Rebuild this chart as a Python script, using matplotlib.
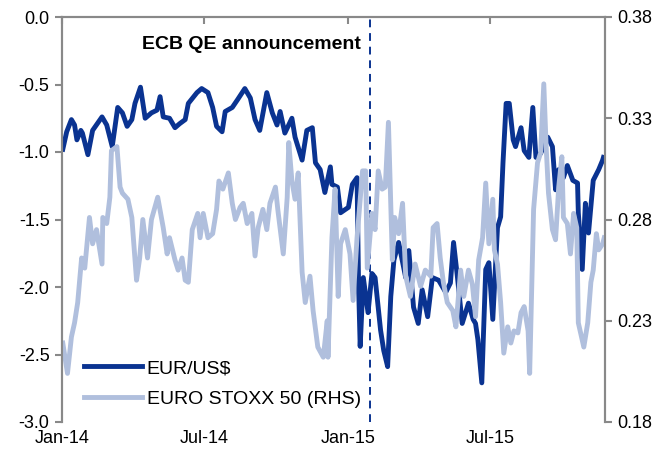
import matplotlib
matplotlib.use('agg')
import matplotlib.pyplot as plt
import matplotlib.dates as mdates
import pandas as pd

plt.rcParams['font.family'] = ['Liberation Sans', 'DejaVu Sans']
plt.rcParams['axes.unicode_minus'] = False

NAVY = '#0a3391'
LIGHT = '#b0bfdd'
GREY = '#898989'

# EUR/US$ (left axis)
eur_dates = [
    '2014-01-02', '2014-01-07', '2014-01-13', '2014-01-17', '2014-01-20', '2014-01-25',
    '2014-01-27', '2014-02-03', '2014-02-09', '2014-02-21', '2014-02-27', '2014-03-06',
    '2014-03-13', '2014-03-19', '2014-03-25', '2014-03-31', '2014-04-04', '2014-04-11',
    '2014-04-17', '2014-04-25', '2014-05-02', '2014-05-06', '2014-05-10', '2014-05-18',
    '2014-05-25', '2014-05-31', '2014-06-07', '2014-06-11', '2014-06-22', '2014-06-28',
    '2014-07-06', '2014-07-12', '2014-07-17', '2014-07-24', '2014-07-28', '2014-08-06',
    '2014-08-13', '2014-08-22', '2014-08-29', '2014-09-04', '2014-09-10', '2014-09-19',
    '2014-09-26', '2014-10-02', '2014-10-06', '2014-10-12', '2014-10-21', '2014-10-25',
    '2014-11-03', '2014-11-09', '2014-11-16', '2014-11-20', '2014-11-26', '2014-12-02',
    '2014-12-09', '2014-12-11', '2014-12-18', '2014-12-22', '2015-01-01', '2015-01-06',
    '2015-01-12', '2015-01-14', '2015-01-16', '2015-01-20', '2015-01-26', '2015-01-31',
    '2015-02-04', '2015-02-11', '2015-02-15', '2015-02-20', '2015-02-24', '2015-02-28',
    '2015-03-06', '2015-03-15', '2015-03-19', '2015-03-25', '2015-03-31', '2015-04-05',
    '2015-04-12', '2015-04-18', '2015-04-26', '2015-05-05', '2015-05-11', '2015-05-15',
    '2015-05-20', '2015-05-26', '2015-06-03', '2015-06-09', '2015-06-12', '2015-06-15',
    '2015-06-20', '2015-06-22', '2015-06-25', '2015-06-29', '2015-07-04', '2015-07-10',
    '2015-07-14', '2015-07-17', '2015-07-21', '2015-07-25', '2015-07-30', '2015-08-02',
    '2015-08-09', '2015-08-13', '2015-08-19', '2015-08-24', '2015-08-28', '2015-09-03',
    '2015-09-12', '2015-09-18', '2015-09-22', '2015-09-26', '2015-10-02', '2015-10-07',
    '2015-10-14', '2015-10-20', '2015-10-21', '2015-10-26', '2015-10-30', '2015-11-03',
    '2015-11-09', '2015-11-16', '2015-11-21', '2015-11-22',
]
eur_values = [
    -0.98, -0.85, -0.76, -0.80, -0.91, -0.84,
    -0.86, -1.02, -0.84, -0.74, -0.80, -0.96,
    -0.67, -0.71, -0.81, -0.76, -0.64, -0.52,
    -0.75, -0.71, -0.69, -0.59, -0.74, -0.75,
    -0.82, -0.79, -0.76, -0.64, -0.56, -0.53,
    -0.56, -0.67, -0.81, -0.85, -0.70, -0.67,
    -0.61, -0.53, -0.60, -0.76, -0.84, -0.56,
    -0.71, -0.80, -0.70, -0.86, -0.75, -0.89,
    -1.06, -0.84, -0.82, -1.08, -1.13, -1.30,
    -1.11, -1.24, -1.26, -1.45, -1.41, -1.24,
    -1.19, -2.00, -2.44, -1.93, -2.19, -1.90,
    -1.93, -2.32, -2.47, -2.59, -2.07, -1.80,
    -1.67, -1.93, -1.73, -2.15, -2.27, -2.02,
    -2.22, -1.93, -1.95, -2.04, -1.97, -1.67,
    -1.93, -2.27, -2.12, -2.24, -2.27, -2.39,
    -2.71, -2.37, -1.87, -1.82, -2.24, -1.56,
    -1.48, -1.08, -0.64, -0.64, -0.91, -0.96,
    -0.82, -0.99, -1.04, -0.67, -1.04, -1.01,
    -0.89, -0.96, -1.28, -1.13, -1.19, -1.10,
    -1.21, -1.23, -1.45, -1.87, -1.38, -1.60,
    -1.21, -1.13, -1.06, -1.04,
]

# EURO STOXX 50 (right axis)
stoxx_dates = [
    '2014-01-02', '2014-01-08', '2014-01-13', '2014-01-17', '2014-01-21', '2014-01-26',
    '2014-01-30', '2014-02-05', '2014-02-09', '2014-02-14', '2014-02-21', '2014-02-22',
    '2014-02-27', '2014-03-03', '2014-03-05', '2014-03-12', '2014-03-16', '2014-03-19',
    '2014-03-26', '2014-03-31', '2014-04-06', '2014-04-10', '2014-04-14', '2014-04-20',
    '2014-04-25', '2014-05-03', '2014-05-10', '2014-05-15', '2014-05-18', '2014-05-25',
    '2014-05-29', '2014-06-03', '2014-06-07', '2014-06-11', '2014-06-16', '2014-06-23',
    '2014-06-26', '2014-06-30', '2014-07-06', '2014-07-12', '2014-07-17', '2014-07-20',
    '2014-07-25', '2014-08-01', '2014-08-06', '2014-08-10', '2014-08-16', '2014-08-20',
    '2014-08-25', '2014-08-31', '2014-09-04', '2014-09-08', '2014-09-14', '2014-09-19',
    '2014-09-23', '2014-09-30', '2014-10-03', '2014-10-10', '2014-10-15', '2014-10-17',
    '2014-10-21', '2014-10-25', '2014-10-29', '2014-11-03', '2014-11-07', '2014-11-13',
    '2014-11-17', '2014-11-23', '2014-11-30', '2014-12-05', '2014-12-06', '2014-12-11',
    '2014-12-15', '2014-12-19', '2014-12-22', '2014-12-28', '2015-01-03', '2015-01-07',
    '2015-01-12', '2015-01-19', '2015-01-23', '2015-01-25', '2015-01-31', '2015-02-04',
    '2015-02-08', '2015-02-13', '2015-02-17', '2015-02-21', '2015-02-26', '2015-03-01',
    '2015-03-06', '2015-03-11', '2015-03-15', '2015-03-21', '2015-03-27', '2015-04-03',
    '2015-04-09', '2015-04-16', '2015-04-19', '2015-04-24', '2015-04-28', '2015-05-02',
    '2015-05-07', '2015-05-14', '2015-05-18', '2015-05-24', '2015-05-28', '2015-06-03',
    '2015-06-08', '2015-06-12', '2015-06-16', '2015-06-21', '2015-06-25', '2015-06-29',
    '2015-07-04', '2015-07-06', '2015-07-10', '2015-07-14', '2015-07-18', '2015-07-23',
    '2015-07-27', '2015-07-31', '2015-08-05', '2015-08-09', '2015-08-13', '2015-08-18',
    '2015-08-20', '2015-08-25', '2015-08-30', '2015-09-03', '2015-09-07', '2015-09-10',
    '2015-09-13', '2015-09-18', '2015-09-22', '2015-09-26', '2015-09-30', '2015-10-02',
    '2015-10-07', '2015-10-11', '2015-10-15', '2015-10-19', '2015-10-21', '2015-10-28',
    '2015-11-02', '2015-11-06', '2015-11-09', '2015-11-13', '2015-11-16', '2015-11-21',
    '2015-11-23',
]
stoxx_values = [
    0.219, 0.204, 0.222, 0.229, 0.239, 0.261,
    0.256, 0.281, 0.268, 0.275, 0.258, 0.281,
    0.278, 0.291, 0.314, 0.316, 0.296, 0.293,
    0.290, 0.281, 0.250, 0.261, 0.280, 0.261,
    0.280, 0.291, 0.276, 0.263, 0.271, 0.260,
    0.255, 0.261, 0.250, 0.249, 0.275, 0.283,
    0.271, 0.283, 0.271, 0.273, 0.285, 0.299,
    0.295, 0.303, 0.288, 0.280, 0.286, 0.288,
    0.278, 0.283, 0.262, 0.276, 0.285, 0.275,
    0.288, 0.296, 0.285, 0.263, 0.291, 0.318,
    0.299, 0.290, 0.303, 0.254, 0.239, 0.252,
    0.235, 0.217, 0.212, 0.230, 0.212, 0.271,
    0.295, 0.242, 0.268, 0.275, 0.263, 0.240,
    0.271, 0.304, 0.304, 0.256, 0.283, 0.275,
    0.304, 0.295, 0.296, 0.328, 0.260, 0.281,
    0.273, 0.288, 0.252, 0.242, 0.258, 0.247,
    0.255, 0.252, 0.276, 0.278, 0.261, 0.249,
    0.239, 0.235, 0.227, 0.255, 0.242, 0.255,
    0.248, 0.232, 0.260, 0.271, 0.298, 0.268,
    0.290, 0.265, 0.258, 0.239, 0.214, 0.227,
    0.219, 0.225, 0.224, 0.234, 0.237, 0.225,
    0.204, 0.285, 0.308, 0.313, 0.347, 0.316,
    0.293, 0.275, 0.270, 0.296, 0.311, 0.281,
    0.278, 0.263, 0.283, 0.276, 0.229, 0.217,
    0.229, 0.249, 0.255, 0.273, 0.265, 0.268,
    0.271,
]

# marker line, placed where the reference draws it
qe_date = pd.Timestamp('2015-01-28')
x_ticks = ['2014-01-01', '2014-07-01', '2015-01-01', '2015-07-01']
left_ticks = [-3.0, -2.5, -2.0, -1.5, -1.0, -0.5, 0.0]
right_ticks = [0.18, 0.23, 0.28, 0.33, 0.38]

fig = plt.figure(figsize=(6.62, 4.58), dpi=100)
ax = fig.add_axes([62 / 662, 1 - 422 / 458, 543 / 662, 405 / 458])
ax2 = ax.twinx()

l1, = ax.plot(pd.to_datetime(eur_dates), eur_values, color=NAVY, lw=3.5,
              solid_joinstyle='round', label='EUR/US$')
l2, = ax2.plot(pd.to_datetime(stoxx_dates), stoxx_values, color=LIGHT, lw=3.5,
               solid_joinstyle='round', label='EURO STOXX 50 (RHS)')

ax.axvline(qe_date, color=NAVY, lw=1.4, ls=(0, (4, 3)), zorder=5)
ax.text(qe_date - pd.Timedelta(days=11), -0.205, 'ECB QE announcement',
        ha='right', va='center', fontsize=14, fontweight='bold')

ax.set_xlim(pd.Timestamp('2014-01-01'), pd.Timestamp('2015-11-24'))
ax.set_ylim(-3.0, 0.0)
ax2.set_ylim(0.18, 0.38)

ax.set_xticks(pd.to_datetime(x_ticks))
ax.xaxis.set_major_formatter(mdates.DateFormatter('%b-%y'))
ax.set_yticks(left_ticks)
ax.set_yticklabels([f'{v:.1f}' for v in left_ticks])
ax2.set_yticks(right_ticks)
ax2.set_yticklabels([f'{v:.2f}' for v in right_ticks])

for a in (ax, ax2):
    for side in ('left', 'right', 'top'):
        a.spines[side].set_color(GREY)
        a.spines[side].set_linewidth(1.5)
    a.spines['bottom'].set_visible(False)

ax.tick_params(axis='x', top=True, bottom=False, labeltop=False, labelbottom=True,
               direction='in', length=5, width=1.5, color=GREY, pad=6, labelsize=13)
ax.tick_params(axis='y', direction='out', length=5, width=1.5, color=GREY,
               labelsize=13, pad=4)
ax2.tick_params(axis='y', direction='out', length=5, width=1.5, color=GREY,
                labelsize=13, pad=4)

ax2.legend([l1, l2], ['EUR/US$', 'EURO STOXX 50 (RHS)'], loc='lower left',
           bbox_to_anchor=(0.022, 0.01), frameon=False, fontsize=14,
           handlelength=3.0, handletextpad=0.25, labelspacing=0.7, borderpad=0)

fig.savefig('out.png', dpi=100)
